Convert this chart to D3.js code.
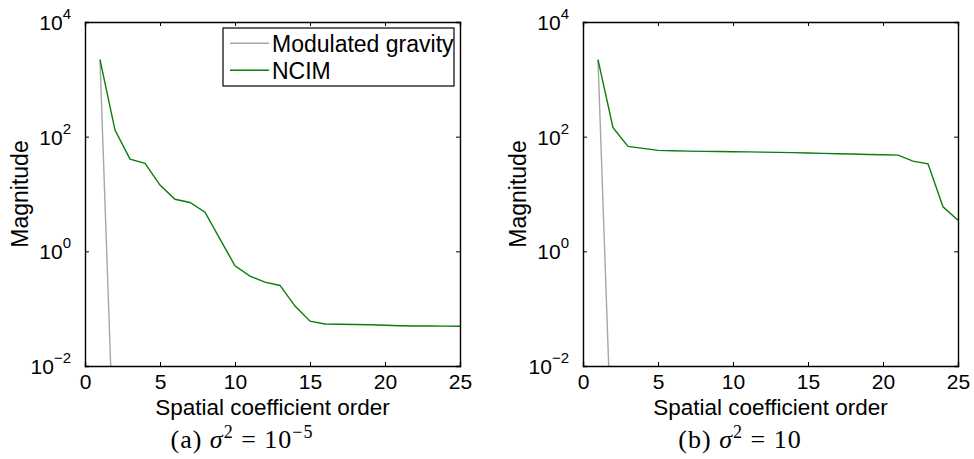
<!DOCTYPE html>
<html>
<head>
<meta charset="utf-8">
<script src="https://cdn.jsdelivr.net/npm/d3@7"></script>
<style>
  body { margin: 0; background: #fff; }
  svg { display: block; }
  text { font-family: "Liberation Sans", Arial, sans-serif; fill: #000; }
  .caption { font-family: "Liberation Serif", "DejaVu Serif", serif; letter-spacing: 1px; }
</style>
</head>
<body>
<div id="chart"></div>
<script>
// spatial coefficient order
const orders = [1, 2, 3, 4, 5, 6, 7, 8, 9, 10, 11, 12, 13, 14, 15, 16, 17, 18, 19, 20, 21, 22, 23, 24, 25];

// modulated gravity drops out of view after the first coefficient
const gravityOrders = [1, 2, 3];
const gravityValues = [2200, 7e-5, 2e-9];

// NCIM, sigma^2 = 1e-5
const ncimSmall = [2200, 130, 40.6, 34.2, 14.3, 8.1, 7.1, 4.8, 1.63, 0.56, 0.37, 0.29, 0.254, 0.111, 0.0605,
                   0.054, 0.0535, 0.053, 0.0525, 0.0515, 0.0505, 0.050, 0.0498, 0.0496, 0.0495];

// NCIM, sigma^2 = 10
const ncimLarge = [2200, 143, 67.7, 62.5, 57.7, 56.8, 56, 55.5, 55, 54.6, 54.2, 53.8, 53.3, 52.7, 51.8,
                   51.2, 50.5, 49.8, 49, 48.3, 47.7, 37.5, 33.7, 5.98, 3.5];

const xTicks = [0, 5, 10, 15, 20, 25];
const yTicks = [1e-2, 1e0, 1e2, 1e4];
const seriesNames = ["Modulated gravity", "NCIM"];

const width = 974, height = 459;
const plotTop = 22, plotBottom = 366;
const gravityColor = "#a6a6a6", ncimColor = "#0a7d0a";

const svg = d3.select("#chart").append("svg")
    .attr("width", width)
    .attr("height", height);

function drawPanel(id, left, right, ncim, caption, showLegend) {
    let x = d3.scaleLinear().domain([0, 25]).range([left, right]);
    let y = d3.scaleLog().domain([1e-2, 1e4]).range([plotBottom, plotTop]);

    let g = svg.append("g");

    g.append("clipPath").attr("id", "clip" + id)
        .append("rect")
        .attr("x", left).attr("y", plotTop)
        .attr("width", right - left).attr("height", plotBottom - plotTop);

    let line = d3.line()
        .x(d => x(d[0]))
        .y(d => y(d[1]));

    let plot = g.append("g").attr("clip-path", `url(#clip${id})`);

    plot.append("path")
        .datum(gravityOrders.map((o, i) => [o, gravityValues[i]]))
        .attr("d", line)
        .attr("fill", "none")
        .attr("stroke", gravityColor)
        .attr("stroke-width", 1.4);

    plot.append("path")
        .datum(orders.map((o, i) => [o, ncim[i]]))
        .attr("d", line)
        .attr("fill", "none")
        .attr("stroke", ncimColor)
        .attr("stroke-width", 1.4);

    // axes, ticks inside like matlab
    let xAxis = d3.axisBottom(x).tickValues(xTicks).tickSize(-4).tickPadding(8.5).tickFormat(d3.format("d"));
    let xTop = d3.axisTop(x).tickValues(xTicks).tickSize(-4).tickFormat("");
    let yAxis = d3.axisLeft(y).tickValues(yTicks).tickSize(-4).tickFormat("");
    let yRight = d3.axisRight(y).tickValues(yTicks).tickSize(-4).tickFormat("");

    let gx = g.append("g").attr("transform", `translate(0,${plotBottom})`).call(xAxis);
    gx.selectAll("text").style("font-size", "21px").attr("dy", "0.71em");
    g.append("g").attr("transform", `translate(0,${plotTop})`).call(xTop);
    g.append("g").attr("transform", `translate(${left},0)`).call(yAxis);
    g.append("g").attr("transform", `translate(${right},0)`).call(yRight);

    g.selectAll(".domain").attr("stroke", "#000").attr("stroke-width", 1.4);
    g.selectAll(".tick line").attr("stroke", "#000").attr("stroke-width", 1);

    // y tick labels as 10^k
    let yl = g.selectAll(".ylab").data(yTicks).enter().append("text")
        .attr("class", "ylab")
        .attr("x", left - 14)
        .attr("y", d => y(d) + 8)
        .attr("text-anchor", "end")
        .style("font-size", "21px");
    yl.append("tspan").text("10");
    yl.append("tspan")
        .attr("dy", -11)
        .style("font-size", "15px")
        .text(d => String(Math.round(Math.log10(d))).replace("-", "\u2212"));

    g.append("text")
        .attr("x", (left + right) / 2)
        .attr("y", 415)
        .attr("text-anchor", "middle")
        .style("font-size", "22.5px")
        .text("Spatial coefficient order");

    g.append("text")
        .attr("transform", `translate(${left - 57},${(plotTop + plotBottom) / 2}) rotate(-90)`)
        .attr("text-anchor", "middle")
        .style("font-size", "23px")
        .text("Magnitude");

    // caption below subfigure
    let cap = g.append("text")
        .attr("class", "caption")
        .attr("x", caption.cx)
        .attr("y", 448)
        .attr("text-anchor", "middle")
        .style("font-size", "26px");
    cap.append("tspan").text(caption.label + " ");
    cap.append("tspan").style("font-style", "italic").text("\u03c3");
    cap.append("tspan").attr("dy", -10).style("font-size", "18px").text("2");
    cap.append("tspan").attr("dy", 10).text(" = 10");
    if (caption.exp) {
        cap.append("tspan").attr("dy", -10).style("font-size", "18px").text(caption.exp);
    }

    if (showLegend) {
        let lg = g.append("g");
        lg.append("rect")
            .attr("x", 223).attr("y", 28)
            .attr("width", 231).attr("height", 58)
            .attr("fill", "#fff")
            .attr("stroke", "#000")
            .attr("stroke-width", 1.2);
        let colors = [gravityColor, ncimColor];
        let rows = lg.selectAll(".legend").data(seriesNames).enter().append("g")
            .attr("class", "legend")
            .attr("transform", (d, i) => `translate(0,${51.5 + i * 27})`);
        rows.append("line")
            .attr("x1", 230).attr("x2", 269)
            .attr("y1", -8.3).attr("y2", -8.3)
            .attr("stroke", (d, i) => colors[i])
            .attr("stroke-width", 1.4);
        rows.append("text")
            .attr("x", 272)
            .style("font-size", "23px")
            .text(d => d);
    }
}

drawPanel("a", 85, 460, ncimSmall, {label: "(a)", exp: "\u22125", cx: 242}, true);
drawPanel("b", 583, 958, ncimLarge, {label: "(b)", exp: null, cx: 740}, false);
</script>
</body>
</html>
